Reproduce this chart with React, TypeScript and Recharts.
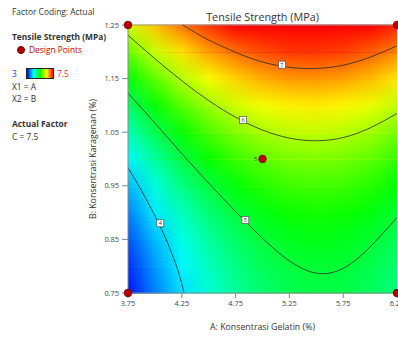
import { ComposedChart, XAxis, YAxis, Line, Scatter, ReferenceArea, ReferenceLine } from "recharts";

const FONT = '"Open Sans", "Noto Sans", sans-serif';

// grid, rows = karagenan (bottom to top), cols = gelatin
const gelatin = [3.75, 4.0, 4.25, 4.5, 4.75, 5.0, 5.25, 5.5, 5.75, 6.0, 6.25];
const karagenan = [0.75, 0.8, 0.85, 0.9, 0.95, 1.0, 1.05, 1.1, 1.15, 1.2, 1.25];
const tensile = [
    [3.09, 3.56, 3.97, 4.30, 4.57, 4.76, 4.89, 4.94, 4.93, 4.84, 4.69],
    [3.20, 3.67, 4.08, 4.41, 4.67, 4.86, 4.98, 5.03, 5.01, 4.92, 4.76],
    [3.36, 3.83, 4.23, 4.55, 4.81, 4.99, 5.11, 5.16, 5.13, 5.04, 4.87],
    [3.57, 4.03, 4.42, 4.74, 4.99, 5.17, 5.29, 5.33, 5.30, 5.20, 5.03],
    [3.81, 4.27, 4.66, 4.97, 5.22, 5.40, 5.51, 5.54, 5.51, 5.41, 5.23],
    [4.10, 4.55, 4.94, 5.25, 5.49, 5.67, 5.77, 5.80, 5.76, 5.66, 5.48],
    [4.43, 4.88, 5.26, 5.57, 5.81, 5.98, 6.08, 6.10, 6.06, 5.95, 5.77],
    [4.81, 5.25, 5.63, 5.93, 6.17, 6.33, 6.43, 6.45, 6.40, 6.29, 6.10],
    [5.23, 5.67, 6.04, 6.34, 6.57, 6.73, 6.82, 6.84, 6.79, 6.67, 6.48],
    [5.69, 6.13, 6.49, 6.79, 7.01, 7.17, 7.26, 7.27, 7.22, 7.09, 6.90],
    [6.20, 6.63, 6.99, 7.28, 7.50, 7.66, 7.74, 7.75, 7.69, 7.56, 7.36],
];

// contour lines [gelatin, karagenan]
const contour7 = [[4.257, 1.25], [4.375, 1.236], [4.5, 1.222], [4.75, 1.199], [5.0, 1.181], [5.25, 1.171], [5.5, 1.169], [5.75, 1.175], [6.0, 1.19], [6.25, 1.211]];
const contour6 = [[3.75, 1.231], [4.0, 1.187], [4.25, 1.146], [4.5, 1.109], [4.75, 1.078], [5.0, 1.054], [5.25, 1.039], [5.5, 1.034], [5.75, 1.04], [6.0, 1.058], [6.25, 1.085]];
const contour5 = [[3.75, 1.123], [4.0, 1.067], [4.25, 1.01], [4.5, 0.955], [4.75, 0.902], [5.0, 0.852], [5.25, 0.81], [5.5, 0.787], [5.75, 0.796], [6.0, 0.836], [6.25, 0.891]];
const contour4 = [[3.75, 0.984], [3.875, 0.941], [4.0, 0.894], [4.125, 0.84], [4.25, 0.767], [4.271, 0.75]];

const contourLabels = [
    { a: 5.18, b: 1.176, level: "7" },
    { a: 4.82, b: 1.073, level: "6" },
    { a: 4.84, b: 0.886, level: "5" },
    { a: 4.05, b: 0.88, level: "4" },
];

const designPoints = [
    { a: 3.75, b: 0.75, runs: 1 },
    { a: 3.75, b: 1.25, runs: 1 },
    { a: 6.25, b: 0.75, runs: 1 },
    { a: 6.25, b: 1.25, runs: 1 },
    { a: 5.0, b: 1.0, runs: 5 },
];

const xTicks = [3.75, 4.25, 4.75, 5.25, 5.75, 6.25];
const yTicks = [0.75, 0.85, 0.95, 1.05, 1.15, 1.25];

const palette = [[0, 0, 255], [0, 255, 255], [0, 255, 0], [255, 255, 0], [255, 0, 0]];
function heat(v: number) {
    const t = Math.min(1, Math.max(0, (v - 3) / 4.5)) * 4;
    const i = Math.min(3, Math.floor(t));
    const f = t - i;
    const c = palette[i].map((p, k) => Math.round(p + (palette[i + 1][k] - p) * f));
    return `rgb(${c.join(",")})`;
}

const toPts = (arr: number[][]) => arr.map(([a, b]) => ({ a, b }));

// one band between two karagenan rows, blended top to bottom
function Band(props: any) {
    const { x, y, width, height, lo } = props;
    return (
        <g>
            <rect x={x} y={y - 0.5} width={width} height={height + 1} fill={`url(#row${lo + 1})`} />
            <rect x={x} y={y - 0.5} width={width} height={height + 1} fill={`url(#row${lo})`} mask="url(#fadeDown)" />
        </g>
    );
}

function LabelBox(props: any) {
    const { cx, cy, payload } = props;
    return (
        <g>
            <rect x={cx - 3.5} y={cy - 3.5} width={7} height={7} fill="#fff" stroke="#555" strokeWidth={0.7} />
            <text x={cx} y={cy + 2} textAnchor="middle" fontSize={5.5} fill="#333" fontFamily={FONT}>{payload.level}</text>
        </g>
    );
}

function DesignDot(props: any) {
    const { cx, cy, payload } = props;
    return (
        <g>
            <circle cx={cx} cy={cy} r={3.8} fill="#b80000" stroke="#6a0000" strokeWidth={0.8} />
            {payload.runs > 1 && (
                <text x={cx - 7} y={cy + 2} textAnchor="middle" fontSize={5.5} fill="#335" fontFamily={FONT}>{payload.runs}</text>
            )}
        </g>
    );
}

const txt = (top: number, left: number, extra: any = {}) => ({
    position: "absolute" as const, top, left, fontSize: 8.4, lineHeight: "12px", color: "#333",
    fontFamily: FONT, whiteSpace: "nowrap" as const, ...extra,
});

export default function App() {
    const lineProps = { dataKey: "b", stroke: "#2a2a2a", strokeWidth: 0.8, dot: false, activeDot: false, isAnimationActive: false };
    return (
        <div style={{ position: "absolute", left: 0, top: 0, width: 398, height: 338, overflow: "hidden", background: "#fff" }}>
            <svg width={0} height={0} style={{ position: "absolute" }}>
                <defs>
                    {tensile.map((row, i) => (
                        <linearGradient key={i} id={`row${i}`} x1="0" y1="0" x2="1" y2="0">
                            {row.map((v, j) => (
                                <stop key={j} offset={j / (gelatin.length - 1)} stopColor={heat(v)} />
                            ))}
                        </linearGradient>
                    ))}
                    <linearGradient id="fadeGrad" x1="0" y1="0" x2="0" y2="1">
                        <stop offset="0" stopColor="#fff" stopOpacity={0} />
                        <stop offset="1" stopColor="#fff" stopOpacity={1} />
                    </linearGradient>
                    <mask id="fadeDown" maskContentUnits="objectBoundingBox" style={{ maskType: "alpha" } as any}>
                        <rect x="0" y="0" width="1" height="1" fill="url(#fadeGrad)" />
                    </mask>
                </defs>
            </svg>

            <ComposedChart width={420} height={338} margin={{ top: 25, right: 23, left: 0, bottom: 0 }}>
                <XAxis
                    type="number"
                    dataKey="a"
                    domain={[3.75, 6.25]}
                    ticks={xTicks}
                    tickFormatter={(v: number) => v.toFixed(2)}
                    height={45}
                    tickSize={5}
                    tickMargin={3}
                    stroke="#888"
                    tick={{ fontSize: 7.4, fill: "#444", fontFamily: FONT }}
                    label={{ value: "A: Konsentrasi Gelatin (%)", position: "center", dy: 11, fontSize: 8.8, fill: "#333", fontFamily: FONT }}
                />
                <YAxis
                    type="number"
                    dataKey="b"
                    domain={[0.75, 1.25]}
                    ticks={yTicks}
                    tickFormatter={(v: number) => v.toFixed(2)}
                    width={128}
                    tickSize={6}
                    tickMargin={3}
                    stroke="#888"
                    tick={{ fontSize: 7.4, fill: "#444", fontFamily: FONT }}
                    label={{ value: "B: Konsentrasi Karagenan (%)", angle: -90, position: "center", dx: 29, fontSize: 8.8, fill: "#333", fontFamily: FONT }}
                />
                {karagenan.slice(0, -1).map((b, i) => (
                    <ReferenceArea
                        key={i}
                        x1={gelatin[0]}
                        x2={gelatin[gelatin.length - 1]}
                        y1={b}
                        y2={karagenan[i + 1]}
                        shape={(p: any) => <Band {...p} lo={i} />}
                    />
                ))}
                <ReferenceLine y={1.25} stroke="#999" strokeWidth={1} />
                <Line {...lineProps} data={toPts(contour7)} type="natural" />
                <Line {...lineProps} data={toPts(contour6)} type="natural" />
                <Line {...lineProps} data={toPts(contour5)} type="natural" />
                <Line {...lineProps} data={toPts(contour4)} type="monotone" />
                <Scatter data={contourLabels} shape={LabelBox} isAnimationActive={false} />
                <Scatter data={designPoints} shape={DesignDot} isAnimationActive={false} />
            </ComposedChart>

            <div style={txt(10, 120, { width: 285, textAlign: "center", fontSize: 10.8, lineHeight: "14px" })}>
                Tensile Strength (MPa)
            </div>

            <div style={txt(6, 12)}>Factor Coding: Actual</div>
            <div style={txt(31, 12, { fontWeight: 700 })}>Tensile Strength (MPa)</div>
            <div style={{ position: "absolute", left: 16.5, top: 46, width: 8, height: 8, borderRadius: "50%", background: "#b80000", border: "0.8px solid #6a0000", boxSizing: "border-box" }} />
            <div style={txt(44, 29, { color: "#c00000" })}>Design Points</div>
            <div style={txt(68, 12, { color: "#3333ff" })}>3</div>
            <div style={{
                position: "absolute", left: 26, top: 68, width: 28, height: 11, boxSizing: "border-box", border: "1px solid #222",
                background: `linear-gradient(to right, ${[3, 4.125, 5.25, 6.375, 7.5].map(heat).join(", ")})`,
            }} />
            <div style={txt(68, 57, { color: "#e03030" })}>7.5</div>
            <div style={txt(81, 12)}>X1 = A</div>
            <div style={txt(93, 12)}>X2 = B</div>
            <div style={txt(118, 12, { fontWeight: 700 })}>Actual Factor</div>
            <div style={txt(131, 12)}>C = 7.5</div>
        </div>
    );
}
